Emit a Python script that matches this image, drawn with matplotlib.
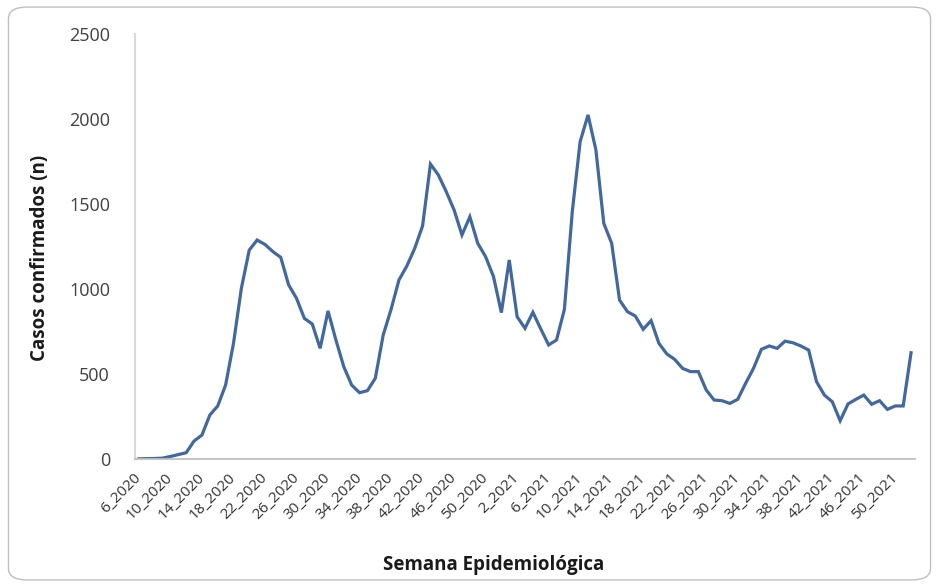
import matplotlib
matplotlib.use("Agg")
import matplotlib.pyplot as plt
from matplotlib.patches import FancyBboxPatch

weeks_2020 = [f"{w}_2020" for w in range(6, 53)]
weeks_2021 = [f"{w}_2021" for w in range(1, 53)]
categories = weeks_2020 + weeks_2021

cases = [1, 2, 3, 5, 15, 26, 37, 106, 141, 259,
         312, 435, 680, 1004, 1229, 1288, 1262, 1220, 1186, 1024,
         945, 827, 794, 651, 871, 700, 543, 435, 390, 402,
         475, 729, 880, 1053, 1135, 1239, 1371, 1735, 1671, 1573,
         1465, 1318, 1425, 1269, 1190, 1073, 861, 1171, 837, 769,
         863, 765, 671, 700, 880, 1455, 1867, 2024, 1818, 1386,
         1269, 935, 867, 841, 763, 814, 680, 618, 586, 533,
         514, 514, 406, 347, 343, 327, 351, 445, 533, 645,
         665, 651, 693, 684, 665, 641, 455, 376, 337, 225,
         324, 351, 376, 322, 343, 292, 312, 312, 625]

yticks = [0, 500, 1000, 1500, 2000, 2500]

plt.rcParams['font.family'] = ['Open Sans', 'DejaVu Sans']

fig = plt.figure(figsize=(9.39, 5.87), dpi=100)
fig.patches.append(FancyBboxPatch((0.009, 0.012), 0.982, 0.976,
                                  boxstyle="round,pad=0,rounding_size=0.02",
                                  transform=fig.transFigure, facecolor='white',
                                  edgecolor='#bfbfbf', linewidth=1.0, zorder=-1))
ax = fig.add_axes([135/939, 1-459/587, 780/939, 425/587])
ax.set_facecolor('none')

x = list(range(len(categories)))
ax.plot(x, cases, color='#41689f', linewidth=2.3, solid_joinstyle='miter')

ax.set_xlim(-0.5, len(categories) - 0.5)
ax.set_ylim(0, 2500)
ax.set_yticks(yticks)
ax.set_yticklabels([str(v) for v in yticks], fontsize=13, color='#404040')
ax.tick_params(axis='y', length=0, pad=18)

tick_idx = list(range(0, len(categories), 4))
ax.set_xticks(tick_idx)
ax.set_xticklabels([categories[i] for i in tick_idx], rotation=45, ha='right',
                   va='center', rotation_mode='anchor', fontsize=11, color='#333333')
ax.tick_params(axis='x', length=0, pad=12)

for s in ['top', 'right']:
    ax.spines[s].set_visible(False)
ax.spines['left'].set_color('#d9d9d9')
ax.spines['left'].set_linewidth(1.5)
ax.spines['bottom'].set_color('#bfbfbf')
ax.spines['bottom'].set_linewidth(1.3)

fig.text(40/939, 1-258/587, 'Casos confirmados (n)', rotation=90, ha='center', va='center',
         fontsize=13.5, fontweight='bold', color='#1a1a1a')
fig.text(494/939, 1-565/587, 'Semana Epidemiológica', ha='center', va='center',
         fontsize=13.5, fontweight='bold', color='#1a1a1a')

fig.savefig('out.png', dpi=100)
